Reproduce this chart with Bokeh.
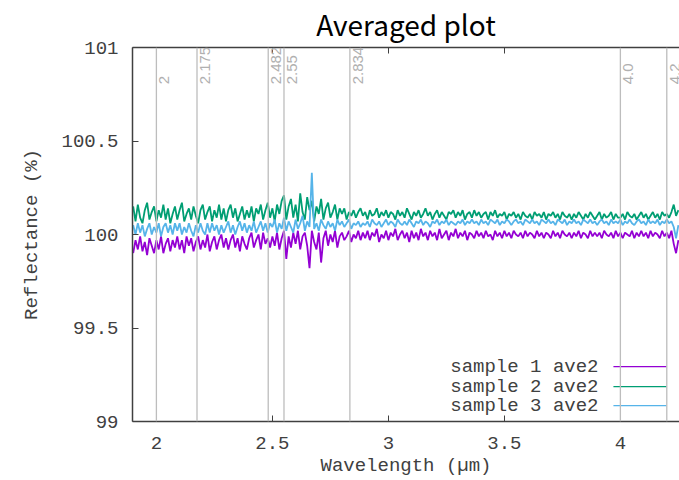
import math
from bokeh.plotting import figure
from bokeh.models import Span, Label, LinearAxis, FixedTicker, CustomJSTickFormatter, Range1d
from bokeh.embed import file_html
from bokeh.resources import INLINE

# ---------------- data ----------------
wavelength = [
    1.90, 1.91, 1.92, 1.93, 1.94, 1.95, 1.96, 1.97, 1.98, 1.99,
    2.00, 2.01, 2.02, 2.03, 2.04, 2.05, 2.06, 2.07, 2.08, 2.09,
    2.10, 2.11, 2.12, 2.13, 2.14, 2.15, 2.16, 2.17, 2.18, 2.19,
    2.20, 2.21, 2.22, 2.23, 2.24, 2.25, 2.26, 2.27, 2.28, 2.29,
    2.30, 2.31, 2.32, 2.33, 2.34, 2.35, 2.36, 2.37, 2.38, 2.39,
    2.40, 2.41, 2.42, 2.43, 2.44, 2.45, 2.46, 2.47, 2.48, 2.49,
    2.50, 2.51, 2.52, 2.53, 2.54, 2.55, 2.56, 2.57, 2.58, 2.59,
    2.60, 2.61, 2.62, 2.63, 2.64, 2.65, 2.66, 2.67, 2.68, 2.69,
    2.70, 2.71, 2.72, 2.73, 2.74, 2.75, 2.76, 2.77, 2.78, 2.79,
    2.80, 2.81, 2.82, 2.83, 2.84, 2.85, 2.86, 2.87, 2.88, 2.89,
    2.90, 2.91, 2.92, 2.93, 2.94, 2.95, 2.96, 2.97, 2.98, 2.99,
    3.00, 3.01, 3.02, 3.03, 3.04, 3.05, 3.06, 3.07, 3.08, 3.09,
    3.10, 3.11, 3.12, 3.13, 3.14, 3.15, 3.16, 3.17, 3.18, 3.19,
    3.20, 3.21, 3.22, 3.23, 3.24, 3.25, 3.26, 3.27, 3.28, 3.29,
    3.30, 3.31, 3.32, 3.33, 3.34, 3.35, 3.36, 3.37, 3.38, 3.39,
    3.40, 3.41, 3.42, 3.43, 3.44, 3.45, 3.46, 3.47, 3.48, 3.49,
    3.50, 3.51, 3.52, 3.53, 3.54, 3.55, 3.56, 3.57, 3.58, 3.59,
    3.60, 3.61, 3.62, 3.63, 3.64, 3.65, 3.66, 3.67, 3.68, 3.69,
    3.70, 3.71, 3.72, 3.73, 3.74, 3.75, 3.76, 3.77, 3.78, 3.79,
    3.80, 3.81, 3.82, 3.83, 3.84, 3.85, 3.86, 3.87, 3.88, 3.89,
    3.90, 3.91, 3.92, 3.93, 3.94, 3.95, 3.96, 3.97, 3.98, 3.99,
    4.00, 4.01, 4.02, 4.03, 4.04, 4.05, 4.06, 4.07, 4.08, 4.09,
    4.10, 4.11, 4.12, 4.13, 4.14, 4.15, 4.16, 4.17, 4.18, 4.19,
    4.20, 4.21, 4.22, 4.23, 4.24, 4.25,
]

sample1_ave2 = [
    99.90, 99.97, 99.92, 99.99, 99.91, 99.96, 99.89, 99.98, 99.94, 99.90,
    99.97, 99.92, 99.99, 99.90, 99.95, 99.98, 99.91, 99.97, 99.93, 99.99,
    99.92, 99.97, 99.90, 99.99, 99.94, 99.98, 99.91, 99.96, 99.99, 99.92,
    99.97, 99.93, 100.00, 99.91, 99.96, 99.99, 99.92, 99.97, 100.00, 99.93,
    99.98, 99.92, 99.97, 100.00, 99.93, 99.98, 99.91, 99.99, 99.95, 99.92,
    99.98, 100.01, 99.93, 99.97, 100.00, 99.92, 100.01, 99.95, 99.98, 99.93,
    99.99, 99.94, 100.01, 99.92, 99.98, 100.02, 99.87, 99.99, 99.93, 100.01,
    99.95, 100.02, 99.92, 99.99, 100.01, 99.94, 99.82, 100.02, 99.96, 99.92,
    100.01, 99.85, 99.98, 100.02, 99.94, 100.00, 99.96, 100.02, 99.93, 99.99,
    100.01, 99.97, 99.99, 100.02, 99.96, 100.00, 99.98, 100.02, 99.97, 100.01,
    99.98, 100.02, 99.97, 100.01, 99.99, 100.03, 99.96, 100.00, 99.98, 100.02,
    99.97, 100.01, 99.99, 100.03, 99.97, 100.00, 100.02, 99.98, 100.01, 99.96,
    100.02, 99.98, 100.01, 99.97, 100.03, 99.99, 100.01, 99.97, 100.02, 99.99,
    100.01, 99.97, 100.03, 99.98, 100.00, 100.02, 99.97, 100.01, 99.99, 100.03,
    99.98, 100.01, 99.99, 100.02, 99.97, 100.01, 100.00, 99.98, 100.02, 99.99,
    100.01, 99.98, 100.02, 99.99, 100.00, 99.97, 100.02, 99.99, 100.01, 99.98,
    100.02, 99.99, 100.01, 99.98, 100.02, 100.00, 99.99, 100.01, 99.98, 100.02,
    99.99, 100.01, 100.00, 99.98, 100.02, 99.99, 100.01, 99.98, 100.01, 100.00,
    99.98, 100.02, 99.99, 100.01, 99.98, 100.02, 100.00, 99.99, 100.01, 99.98,
    100.01, 99.99, 100.02, 99.98, 100.01, 100.00, 99.98, 100.02, 99.99, 100.01,
    99.99, 100.01, 99.98, 100.02, 100.00, 99.99, 100.01, 99.98, 100.02, 99.99,
    100.01, 99.98, 100.01, 100.00, 99.99, 100.02, 99.98, 100.01, 99.99, 100.02,
    99.99, 100.01, 99.98, 100.02, 99.99, 100.01, 100.00, 99.98, 100.02, 99.99,
    100.01, 99.98, 100.02, 99.95, 99.90, 99.97,
]

sample2_ave2 = [
    100.15, 100.07, 100.16, 100.09, 100.06, 100.13, 100.17, 100.08, 100.12, 100.15,
    100.07, 100.13, 100.09, 100.16, 100.08, 100.14, 100.06, 100.11, 100.15, 100.08,
    100.13, 100.17, 100.07, 100.11, 100.14, 100.08, 100.15, 100.10, 100.06, 100.13,
    100.16, 100.08, 100.12, 100.15, 100.07, 100.13, 100.09, 100.16, 100.08, 100.14,
    100.07, 100.13, 100.16, 100.09, 100.14, 100.07, 100.11, 100.15, 100.08, 100.13,
    100.09, 100.15, 100.07, 100.14, 100.11, 100.16, 100.08, 100.13, 100.17, 100.09,
    100.14, 100.07, 100.16, 100.11, 100.18, 100.21, 100.08, 100.15, 100.19, 100.09,
    100.16, 100.07, 100.22, 100.12, 100.08, 100.20, 100.13, 100.18, 100.07, 100.15,
    100.11, 100.19, 100.08, 100.14, 100.17, 100.09, 100.12, 100.16, 100.08, 100.14,
    100.11, 100.14, 100.08, 100.12, 100.10, 100.13, 100.09, 100.12, 100.14, 100.10,
    100.12, 100.08, 100.13, 100.10, 100.11, 100.14, 100.09, 100.12, 100.10, 100.13,
    100.09, 100.12, 100.11, 100.08, 100.13, 100.10, 100.12, 100.09, 100.14, 100.11,
    100.08, 100.12, 100.10, 100.13, 100.09, 100.11, 100.14, 100.10, 100.12, 100.08,
    100.11, 100.13, 100.09, 100.12, 100.10, 100.08, 100.12, 100.11, 100.13, 100.09,
    100.12, 100.10, 100.13, 100.08, 100.11, 100.12, 100.09, 100.13, 100.10, 100.12,
    100.09, 100.11, 100.12, 100.08, 100.12, 100.10, 100.13, 100.09, 100.11, 100.10,
    100.12, 100.08, 100.11, 100.10, 100.12, 100.09, 100.11, 100.08, 100.12, 100.10,
    100.09, 100.11, 100.08, 100.12, 100.10, 100.11, 100.09, 100.12, 100.08, 100.11,
    100.10, 100.12, 100.09, 100.11, 100.08, 100.12, 100.10, 100.09, 100.11, 100.08,
    100.11, 100.09, 100.12, 100.10, 100.08, 100.11, 100.09, 100.12, 100.10, 100.08,
    100.10, 100.12, 100.08, 100.11, 100.09, 100.10, 100.12, 100.08, 100.11, 100.09,
    100.09, 100.11, 100.08, 100.12, 100.10, 100.09, 100.11, 100.08, 100.10, 100.12,
    100.09, 100.11, 100.08, 100.10, 100.12, 100.09, 100.11, 100.08, 100.12, 100.10,
    100.11, 100.09, 100.12, 100.16, 100.10, 100.13,
]

sample3_ave2 = [
    100.05, 100.00, 100.06, 100.01, 100.05, 99.99, 100.03, 100.06, 100.00, 100.04,
    100.01, 100.06, 99.99, 100.04, 100.06, 100.01, 100.05, 100.00, 100.06, 100.02,
    100.06, 100.00, 100.04, 100.01, 100.06, 100.02, 99.99, 100.05, 100.01, 100.06,
    100.02, 100.00, 100.06, 100.01, 100.06, 100.02, 100.05, 100.00, 100.05, 100.01,
    100.04, 100.07, 100.01, 100.05, 100.00, 100.04, 100.07, 100.02, 100.06, 100.01,
    100.05, 100.02, 100.07, 100.01, 100.04, 100.07, 100.02, 100.06, 100.01, 100.06,
    100.04, 100.08, 100.01, 100.06, 100.03, 100.09, 100.02, 100.07, 100.04, 100.01,
    100.08, 100.03, 100.06, 100.10, 100.02, 100.07, 100.04, 100.33, 100.03, 100.06,
    100.02, 100.08, 100.05, 100.03, 100.07, 100.04, 100.06, 100.02, 100.08, 100.05,
    100.07, 100.04, 100.06, 100.08, 100.03, 100.06, 100.05, 100.07, 100.04, 100.06,
    100.05, 100.07, 100.04, 100.08, 100.06, 100.05, 100.07, 100.04, 100.06, 100.08,
    100.05, 100.07, 100.06, 100.04, 100.08, 100.06, 100.05, 100.07, 100.05, 100.08,
    100.06, 100.04, 100.07, 100.06, 100.08, 100.05, 100.07, 100.06, 100.04, 100.07,
    100.06, 100.08, 100.05, 100.07, 100.06, 100.08, 100.05, 100.07, 100.06, 100.05,
    100.07, 100.06, 100.08, 100.05, 100.07, 100.06, 100.08, 100.06, 100.07, 100.05,
    100.08, 100.06, 100.07, 100.05, 100.08, 100.07, 100.06, 100.08, 100.05, 100.07,
    100.06, 100.08, 100.07, 100.05, 100.07, 100.08, 100.06, 100.07, 100.05, 100.08,
    100.07, 100.06, 100.08, 100.06, 100.07, 100.05, 100.08, 100.07, 100.06, 100.08,
    100.06, 100.07, 100.05, 100.08, 100.07, 100.06, 100.08, 100.05, 100.07, 100.06,
    100.08, 100.06, 100.07, 100.05, 100.08, 100.07, 100.06, 100.08, 100.06, 100.07,
    100.05, 100.07, 100.08, 100.06, 100.07, 100.05, 100.08, 100.06, 100.07, 100.06,
    100.08, 100.05, 100.07, 100.06, 100.08, 100.06, 100.05, 100.07, 100.08, 100.06,
    100.07, 100.05, 100.08, 100.06, 100.07, 100.06, 100.08, 100.05, 100.07, 100.06,
    100.08, 100.06, 100.07, 100.04, 99.98, 100.05,
]

series_names = ["sample 1 ave2", "sample 2 ave2", "sample 3 ave2"]
series_colors = ["#9400d3", "#009e73", "#56b4e9"]

marker_positions = [2.0, 2.175, 2.482, 2.55, 2.834, 4.0, 4.2]
marker_labels = ["2", "2.175", "2.482", "2.55", "2.834", "4.0", "4.2"]

x_ticks = [2, 2.5, 3, 3.5, 4]
y_ticks = [99, 99.5, 100, 100.5, 101]

title_text = "Averaged plot"
x_label = "Wavelength (\u00b5m)"
y_label = "Reflectance (%)"

# ---------------- figure ----------------
MONO = "Liberation Mono"
TXT = "#404040"

p = figure(width=679, height=480,
           x_range=Range1d(1.897, 4.2548), y_range=Range1d(99, 101),
           output_backend="svg", toolbar_location=None,
           min_border_left=132, min_border_right=0,
           min_border_top=45, min_border_bottom=59)
p.background_fill_color = "white"
p.border_fill_color = "white"
p.outline_line_color = None
p.xgrid.visible = False
p.ygrid.visible = False

fmt = CustomJSTickFormatter(code="return tick.toString();")


def style_axis(ax):
    ax.major_tick_in = 6
    ax.major_tick_out = 0
    ax.minor_tick_in = 0
    ax.minor_tick_out = 0
    ax.axis_line_color = TXT
    ax.axis_line_width = 1.5
    ax.major_tick_line_color = TXT
    ax.major_label_text_font = MONO
    ax.major_label_text_font_size = "19px"
    ax.major_label_text_color = TXT
    ax.axis_label_text_font = MONO
    ax.axis_label_text_font_size = "19px"
    ax.axis_label_text_font_style = "normal"
    ax.axis_label_text_color = TXT


for ax in p.xaxis:
    style_axis(ax)
    ax.ticker = FixedTicker(ticks=x_ticks)
    ax.formatter = fmt
    ax.major_label_standoff = 15
    ax.axis_label = x_label
    ax.axis_label_standoff = 3

for ax in p.yaxis:
    style_axis(ax)
    ax.ticker = FixedTicker(ticks=y_ticks)
    ax.formatter = fmt
    ax.major_label_standoff = 14
    ax.axis_label = y_label
    ax.axis_label_standoff = 15

# top frame line with mirrored ticks; carries the title as its label
top_axis = LinearAxis(ticker=FixedTicker(ticks=x_ticks),
                      formatter=CustomJSTickFormatter(code="return '';"))
style_axis(top_axis)
top_axis.major_label_standoff = 0
top_axis.axis_label = title_text
top_axis.axis_label_text_font = "Noto Sans CJK JP"
top_axis.axis_label_text_font_size = "28px"
top_axis.axis_label_text_color = "black"
top_axis.axis_label_standoff = 4
p.add_layout(top_axis, "above")

# vertical marker lines with rotated labels
for pos, lab in zip(marker_positions, marker_labels):
    p.add_layout(Span(location=pos, dimension="height",
                      line_color="#bdbdbd", line_width=1.3))
    p.add_layout(Label(x=pos, y=100.803, text=lab, angle=math.pi / 2,
                       text_align="left", text_baseline="top", x_offset=3,
                       text_font="Liberation Sans", text_font_size="15px",
                       text_color="#b0b0b0"))

# data series
for ys, col in zip([sample1_ave2, sample2_ave2, sample3_ave2], series_colors):
    p.line(wavelength, ys, line_color=col, line_width=1.8)

# legend (text on the left, line sample on the right, gnuplot style)
legend_y = [99.293, 99.186, 99.085]
for name, col, ly in zip(series_names, series_colors, legend_y):
    p.add_layout(Label(x=3.9056, y=ly, text=name, text_align="right",
                       text_baseline="middle", text_font=MONO,
                       text_font_size="19px", text_color=TXT))
    p.segment(x0=[3.970], y0=[ly], x1=[4.199], y1=[ly], line_color=col, line_width=1.2)

open("out.html", "w").write(file_html(p, INLINE))
